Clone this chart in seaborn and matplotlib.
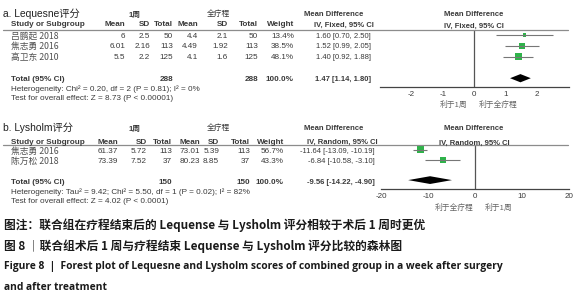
import numpy as np
import pandas as pd
import matplotlib
matplotlib.use("Agg")
import matplotlib.pyplot as plt
from matplotlib.lines import Line2D
from matplotlib.patches import Polygon
import seaborn as sns

# ---- data ----
a_studies = ["吕鹏起 2018", "焦志勇 2016", "高卫东 2010"]
a_mean1 = [6, 6.01, 5.5]
a_sd1 = [2.5, 2.16, 2.2]
a_n1 = [50, 113, 125]
a_mean2 = [4.4, 4.49, 4.1]
a_sd2 = [2.1, 1.92, 1.6]
a_n2 = [50, 113, 125]
a_weight = [13.4, 38.5, 48.1]
a_md = [1.60, 1.52, 1.40]
a_lo = [0.70, 0.99, 0.92]
a_hi = [2.50, 2.05, 1.88]
a_total = [1.47, 1.14, 1.80]
a_ticks = [-2, -1, 0, 1, 2]

b_studies = ["焦志勇 2016", "陈万松 2018"]
b_mean1 = [61.37, 73.39]
b_sd1 = [5.72, 7.52]
b_n1 = [113, 37]
b_mean2 = [73.01, 80.23]
b_sd2 = [5.39, 8.85]
b_n2 = [113, 37]
b_weight = [56.7, 43.3]
b_md = [-11.64, -6.84]
b_lo = [-13.09, -10.58]
b_hi = [-10.19, -3.10]
b_total = [-9.56, -14.22, -4.90]
b_ticks = [-20, -10, 0, 10, 20]

W, H = 579, 300
green = "#2fb34a"
txt = "#3a3a3a"
fs = 5.9
fs_ci = 5.5

sns.set_style("white")
plt.rcParams["font.family"] = ["Liberation Sans", "Noto Sans CJK SC", "DejaVu Sans"]
plt.rcParams["axes.unicode_minus"] = False

fig = plt.figure(figsize=(W / 100, H / 100), dpi=100)


def t(x, y, s, **kw):
    kw.setdefault("fontsize", fs)
    kw.setdefault("color", txt)
    kw.setdefault("va", "center")
    fig.text(x / W, 1 - y / H, s, **kw)


def hline(y, x0=3, x1=568):
    fig.add_artist(Line2D([x0 / W, x1 / W], [1 - y / H, 1 - y / H],
                          color="#8c8c8c", lw=0.9))


def fmt_ci(m, lo, hi):
    return "{:.2f} [{:.2f}, {:.2f}]".format(m, lo, hi)


def panel(title, y_title, y_head, y_line, row0, step, studies, m1, s1, n1, m2, s2, n2,
          w, md, lo, hi, total, method, het, test, xcols):
    t(3, y_title, title, fontsize=7.4, color="#222222")
    t(135, y_title + 1, "1周", fontsize=5.6, ha="center", fontweight="bold")
    t(218, y_title, "全疗程", fontsize=5.6, ha="center", style="italic")
    t(334, y_title + 1, "Mean Difference", fontweight="bold", ha="center", fontsize=fs_ci)
    t(474, y_title + 1, "Mean Difference", fontweight="bold", ha="center", fontsize=fs_ci)
    t(474, y_head + 1, "IV, %s, 95%% CI" % method, fontweight="bold", ha="center", fontsize=fs_ci)
    t(11, y_head, "Study or Subgroup", fontweight="bold")
    heads = ["Mean", "SD", "Total", "Mean", "SD", "Total", "Weight"]
    for hx, hs in zip(xcols[:7], heads):
        t(hx, y_head, hs, fontweight="bold", ha="right")
    t(xcols[7] + 3, y_head, "IV, %s, 95%% CI" % method, fontweight="bold", ha="right", fontsize=fs_ci)
    hline(y_line)
    for i, name in enumerate(studies):
        y = row0 + i * step
        t(11, y, name, family=["Noto Sans CJK SC"], fontsize=6.3, color="#505050")
        vals = ["{:g}".format(m1[i]), "{:g}".format(s1[i]), str(n1[i]),
                "{:g}".format(m2[i]), "{:g}".format(s2[i]), str(n2[i]),
                "{:.1f}%".format(w[i])]
        for vx, vs in zip(xcols, vals):
            t(vx, y, vs, ha="right")
        t(xcols[7], y, fmt_ci(md[i], lo[i], hi[i]), ha="right", fontsize=fs_ci)
    yt = row0 + (len(studies) + 1) * step
    t(11, yt, "Total (95% CI)", fontweight="bold")
    t(xcols[2], yt, str(sum(n1)), fontweight="bold", ha="right")
    t(xcols[5], yt, str(sum(n2)), fontweight="bold", ha="right")
    t(xcols[6], yt, "100.0%", fontweight="bold", ha="right")
    t(xcols[7], yt, fmt_ci(*total), fontweight="bold", ha="right", fontsize=fs_ci)
    t(11, yt + 10, het)
    t(11, yt + 19.5, test)


def forest(left, right, top, bottom, row0, step, md, lo, hi, w, total, lim, ticks, labels, ylab):
    ax = fig.add_axes([left / W, 1 - bottom / H, (right - left) / W, (bottom - top) / H])
    n = len(md)
    rows = np.arange(n)
    df = pd.DataFrame({"md": md, "row": rows, "weight": w})
    ax.hlines(rows, lo, hi, color="#777777", lw=0.8)
    sns.scatterplot(data=df, x="md", y="row", size="weight", sizes=(0, 48), size_norm=(0, 100),
                    marker="s", color=green, edgecolor=green, linewidth=0, legend=False, ax=ax)
    tr = n + 1
    ax.add_patch(Polygon([[total[1], tr], [total[0], tr - 0.38], [total[2], tr], [total[0], tr + 0.38]],
                         closed=True, color="black", lw=0))
    ax.axvline(0, color="#555555", lw=0.9)
    ax.set_xlim(lim)
    ax.set_ylim((bottom - row0) / step, (top - row0) / step)
    ax.set_xticks(ticks)
    ax.set_yticks([])
    ax.set_xlabel("")
    ax.set_ylabel("")
    for s in ["top", "left", "right"]:
        ax.spines[s].set_visible(False)
    ax.spines["bottom"].set_color("#444444")
    ax.spines["bottom"].set_linewidth(0.9)
    ax.tick_params(axis="x", direction="inout", length=4, width=0.8, color="#444444",
                   labelsize=5.8, labelcolor=txt, pad=1)
    ax.patch.set_alpha(0)
    mid = (left + right) / 2
    t(mid - 21, ylab, labels[0], family=["Noto Sans CJK SC"], fontsize=5.6, color="#666666", ha="center")
    t(mid + 24, ylab, labels[1], family=["Noto Sans CJK SC"], fontsize=5.6, color="#666666", ha="center")
    return ax


# ---- panel a ----
panel("a. Lequesne评分", 14, 25, 30, 36, 10.8, a_studies, a_mean1, a_sd1, a_n1, a_mean2, a_sd2, a_n2,
      a_weight, a_md, a_lo, a_hi, a_total, "Fixed",
      "Heterogeneity: Chi² = 0.20, df = 2 (P = 0.81); I² = 0%",
      "Test for overall effect: Z = 8.73 (P < 0.00001)",
      [125, 150, 173, 198, 228, 258, 294, 371])
forest(380, 568.5, 30, 87, 35, 10.8, a_md, a_lo, a_hi, a_weight, a_total, (-3, 3), a_ticks,
       ["利于1周", "利于全疗程"], 105)

# ---- panel b ----
panel("b. Lysholm评分", 128, 142, 145, 151.5, 10.2, b_studies, b_mean1, b_sd1, b_n1, b_mean2, b_sd2, b_n2,
      b_weight, b_md, b_lo, b_hi, b_total, "Random",
      "Heterogeneity: Tau² = 9.42; Chi² = 5.50, df = 1 (P = 0.02); I² = 82%",
      "Test for overall effect: Z = 4.02 (P < 0.0001)",
      [118, 147, 172, 200, 219, 250, 284, 375])
forest(381, 569, 145, 189, 149.5, 10.2, b_md, b_lo, b_hi, b_weight, b_total, (-20, 20), b_ticks,
       ["利于全疗程", "利于1周"], 208)

# ---- caption ----
cap = dict(family=["Noto Sans CJK SC"], fontweight="bold", color="#1a1a1a", fontsize=8.45)
t(4, 225, "图注：联合组在疗程结束后的 Lequense 与 Lysholm 评分相较于术后 1 周时更优", **cap)
t(4, 246, "图 8 ｜联合组术后 1 周与疗程结束 Lequense 与 Lysholm 评分比较的森林图", **cap)
cap_en = dict(family=["Open Sans"], fontweight="bold", color="#1a1a1a", fontsize=7.35)
t(4, 267, "Figure 8  |  Forest plot of Lequesne and Lysholm scores of combined group in a week after surgery", **cap_en)
t(4, 287, "and after treatment", **cap_en)

fig.savefig("out.png", dpi=100)
